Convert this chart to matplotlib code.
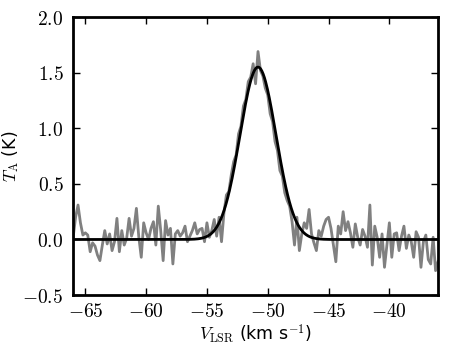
import numpy as np
import matplotlib
matplotlib.use('Agg')
import matplotlib.pyplot as plt
from matplotlib.ticker import FormatStrFormatter

plt.rcParams['mathtext.fontset'] = 'cm'

# channel grid (km/s)
v_start = -66.0
v_step = 0.2

# observed antenna temperature per channel (K)
t_left = [0.02, 0.20, 0.31, 0.15, 0.04, 0.06, 0.04, -0.11, -0.03, -0.06,
          -0.14, -0.19, -0.05, 0.08, -0.04, 0.05, -0.10, -0.02, 0.19, -0.11,
          0.08, -0.05, 0.01, 0.19, 0.03, 0.10, 0.28, 0.02, -0.16, 0.15,
          0.06, 0.00, 0.10, 0.16, -0.05, 0.30, 0.08, -0.19, 0.17, 0.04,
          0.10, -0.22, 0.05, 0.08, 0.03, 0.06, 0.12, -0.02, 0.03, 0.08,
          0.15, 0.05, 0.09]
t_line = [0.10, -0.02, 0.15, 0.02, 0.08, 0.18, 0.03, 0.20, -0.02, 0.24,
          0.40, 0.43, 0.58, 0.70, 0.76, 0.95, 1.02, 1.20, 1.26, 1.42,
          1.46, 1.58, 1.40, 1.69, 1.52, 1.47, 1.36, 1.30, 1.13, 1.06,
          0.88, 0.80, 0.62, 0.57, 0.42, 0.35, 0.30, 0.16, -0.05, 0.20,
          -0.10, 0.05, 0.15]
t_right = [0.10, 0.27, 0.05, -0.03, -0.10, 0.08, 0.03, 0.12, 0.18, 0.20,
           0.10, -0.05, -0.20, 0.12, 0.05, 0.25, 0.08, 0.16, 0.06, -0.07,
           0.14, 0.02, -0.05, 0.09, 0.03, -0.07, 0.31, -0.23, 0.12, 0.02,
           -0.16, 0.05, -0.25, -0.05, 0.15, -0.16, 0.05, 0.06, -0.10, 0.03,
           0.12, -0.08, 0.04, -0.02, -0.16, 0.07, 0.02, -0.25, -0.02, 0.04,
           -0.18, -0.22, 0.02, -0.28, -0.20]

# gaussian fit parameters
fit_amp = 1.55
fit_center = -50.8
fit_sigma = 1.48

ta = np.array(t_left + t_line + t_right)
vel = v_start + v_step*np.arange(len(ta))

vfit = np.linspace(-66, -36, 600)
tfit = fit_amp*np.exp(-(vfit-fit_center)**2/(2*fit_sigma**2))

fig = plt.figure(figsize=(4.63, 3.48), dpi=100)
ax = fig.add_axes([0.158, 0.152, 0.788, 0.799])
ax.plot(vel, ta, color='0.5', lw=2)
ax.plot(vfit, tfit, color='k', lw=2)

ax.set_xlim(-66, -36)
ax.set_ylim(-0.5, 2.0)
ax.set_xticks([-65, -60, -55, -50, -45, -40])
ax.set_yticks([-0.5, 0.0, 0.5, 1.0, 1.5, 2.0])
ax.xaxis.set_major_formatter(FormatStrFormatter('$%d$'))
ax.yaxis.set_major_formatter(FormatStrFormatter('$%.1f$'))
ax.tick_params(direction='in', top=True, right=True, length=5, width=1,
               labelsize=14, pad=5)
ax.tick_params(axis='y', pad=7)
for s in ax.spines.values():
    s.set_linewidth(2)

ax.set_xlabel(r'$V_{\rm LSR}$ (km s$^{-1}$)', fontsize=12.5)
ax.set_ylabel(r'$T_{\rm A}$ (K)', fontsize=12.5)
ax.xaxis.set_label_coords(0.5, -0.1)
ax.yaxis.set_label_coords(-0.143, 0.5)

fig.savefig('out.png', dpi=100)
